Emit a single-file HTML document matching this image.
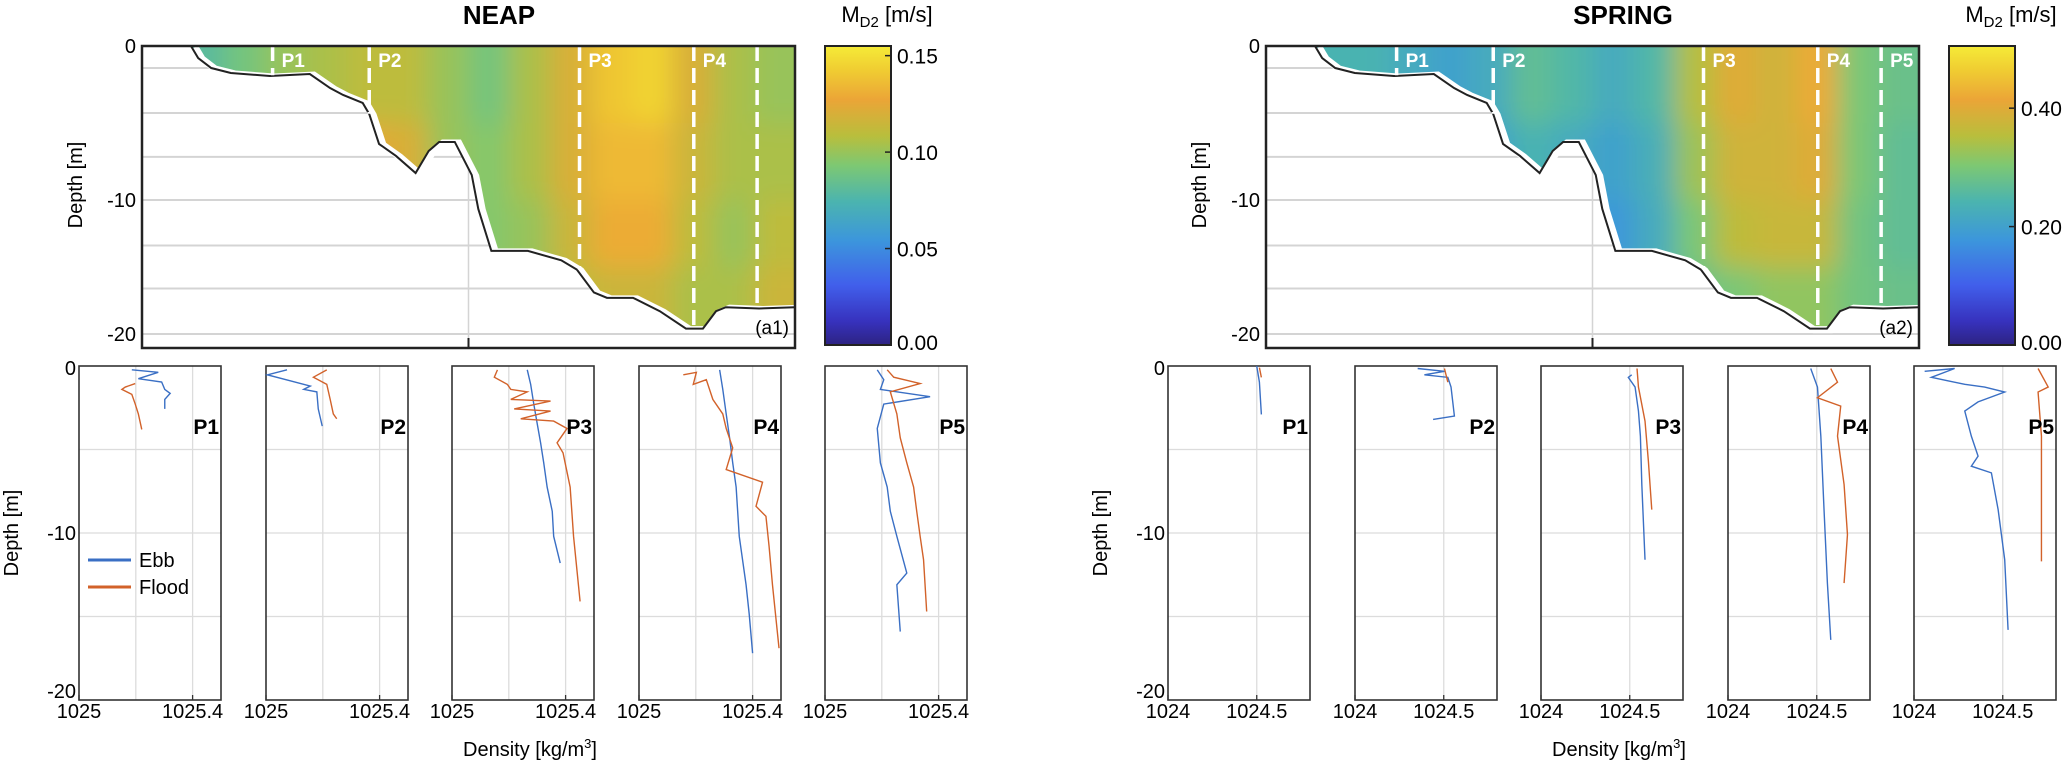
<!DOCTYPE html>
<html><head><meta charset="utf-8">
<style>
html,body{margin:0;padding:0;background:#fff;}
svg{display:block;font-family:"Liberation Sans",Arial,sans-serif;}
</style></head>
<body>
<svg id="fig" width="2067" height="763" viewBox="0 0 2067 763" xmlns="http://www.w3.org/2000/svg">
<defs>
<linearGradient id="parula" x1="0" y1="1" x2="0" y2="0">
<stop offset="0" stop-color="rgb(45,35,130)"/><stop offset="0.08" stop-color="rgb(55,50,190)"/>
<stop offset="0.2" stop-color="rgb(65,95,235)"/><stop offset="0.35" stop-color="rgb(60,150,220)"/>
<stop offset="0.48" stop-color="rgb(75,180,175)"/><stop offset="0.6" stop-color="rgb(125,200,115)"/>
<stop offset="0.7" stop-color="rgb(185,190,60)"/><stop offset="0.82" stop-color="rgb(235,165,55)"/>
<stop offset="0.92" stop-color="rgb(240,205,50)"/><stop offset="1" stop-color="rgb(245,235,55)"/>
</linearGradient>
<filter id="blur" x="-10%" y="-10%" width="120%" height="120%"><feGaussianBlur stdDeviation="13"/></filter>
</defs>
</svg>
<script>
// ---------- DATA ----------
// bathymetry: distance (0-100 across section) and depth (m)
const bathyDist = [7.5,8.6,10.6,13.6,19.6,25.7,28.8,30.8,33.8,34.8,36.3,38.9,41.9,43.9,45.5,47.9,49.0,50.5,51.5,53.5,59.1,64.2,66.6,69.2,71.2,75.2,79.3,83.3,85.9,87.9,89.4,94.5,100];
const bathyDepth = [0,0.78,1.43,1.75,1.95,1.82,2.73,3.18,3.7,4.42,6.36,7.14,8.25,6.82,6.23,6.23,7.14,8.38,10.67,13.8,13.8,14.5,15.2,16.9,17.3,17.3,18.3,19.6,19.6,18.3,18.0,18.1,18.0];
const profileDist = [20, 34.8, 67.0, 84.5, 94.2];
const profileNames = ["P1","P2","P3","P4","P5"];
// heatmap: 16 columns x 4 depth rows (0-5,5-10,10-15,15-20 m)
const neapGrid = [
 [.08,.08,.08,.08],[.08,.085,.085,.085],[.09,.1,.1,.1],[.1,.11,.11,.11],
 [.105,.12,.12,.12],[.11,.125,.125,.12],[.11,.12,.115,.11],[.1,.1,.1,.1],
 [.09,.095,.095,.1],[.105,.105,.1,.1],[.12,.12,.115,.11],[.14,.135,.13,.115],
 [.145,.135,.13,.115],[.12,.115,.11,.105],[.105,.105,.1,.105],[.1,.105,.11,.115]];
const springGrid = [
 [.25,.25,.25,.25],[.24,.24,.24,.24],[.24,.24,.24,.24],[.22,.22,.22,.22],
 [.2,.2,.2,.2],[.22,.2,.2,.2],[.27,.24,.22,.22],[.25,.22,.2,.2],
 [.22,.2,.18,.2],[.25,.23,.22,.25],[.35,.33,.3,.28],[.4,.38,.36,.3],
 [.38,.38,.37,.32],[.42,.4,.37,.32],[.3,.3,.29,.29],[.28,.27,.27,.28]];
const neapCbTicks = [0,0.05,0.10,0.15];
const neapCbLabels = ["0.00","0.05","0.10","0.15"];
const springCbTicks = [0,0.20,0.40];
const springCbLabels = ["0.00","0.20","0.40"];
const neapXTicks = [1025,1025.4];
const neapXLabels = ["1025","1025.4"];
const springXTicks = [1024,1024.5];
const springXLabels = ["1024","1024.5"];
// density profiles [density, depth]
const neapEbb = [
 [[1025.186,0.23],[1025.279,0.38],[1025.209,0.76],[1025.291,0.96],[1025.302,1.4],[1025.321,1.64],[1025.302,2.0],[1025.302,2.57]],
 [[1025.074,0.23],[1025.005,0.53],[1025.156,1.2],[1025.133,1.4],[1025.179,1.55],[1025.184,2.57],[1025.198,3.6]],
 [[1025.265,0.23],[1025.277,1.1],[1025.288,2.28],[1025.3,3.45],[1025.312,4.6],[1025.323,5.8],[1025.335,7.25],[1025.353,8.7],[1025.358,10.2],[1025.381,11.8]],
 [[1025.284,0.23],[1025.295,1.4],[1025.307,2.87],[1025.319,4.3],[1025.33,5.8],[1025.342,7.25],[1025.353,10.2],[1025.377,13.1],[1025.388,14.85],[1025.4,17.2]],
 [[1025.184,0.23],[1025.207,0.82],[1025.195,1.4],[1025.37,1.84],[1025.207,2.28],[1025.184,3.74],[1025.195,5.8],[1025.219,7.25],[1025.23,8.7],[1025.253,10.2],[1025.288,12.4],[1025.253,13.1],[1025.265,15.9]]];
const neapFlood = [
 [[1025.198,1.05],[1025.163,1.26],[1025.151,1.4],[1025.186,1.7],[1025.198,2.28],[1025.209,2.87],[1025.221,3.8]],
 [[1025.214,0.23],[1025.167,0.67],[1025.214,1.1],[1025.226,2.0],[1025.237,2.87],[1025.249,3.16]],
 [[1025.16,0.23],[1025.149,0.67],[1025.195,1.1],[1025.207,1.4],[1025.265,1.55],[1025.207,2.0],[1025.347,2.1],[1025.219,2.57],[1025.347,2.7],[1025.242,3.16],[1025.358,3.3],[1025.405,3.74],[1025.37,4.6],[1025.391,5.2],[1025.416,7.25],[1025.428,10.2],[1025.451,14.1]],
 [[1025.156,0.53],[1025.202,0.38],[1025.191,1.1],[1025.237,0.82],[1025.26,2.0],[1025.295,2.87],[1025.307,3.74],[1025.33,4.9],[1025.307,6.2],[1025.435,6.96],[1025.412,8.4],[1025.447,9.0],[1025.458,10.8],[1025.47,13.1],[1025.493,16.9]],
 [[1025.219,0.23],[1025.242,0.67],[1025.335,1.05],[1025.23,1.55],[1025.253,2.87],[1025.265,4.3],[1025.288,5.8],[1025.312,7.25],[1025.323,8.7],[1025.335,10.2],[1025.347,11.6],[1025.358,14.7]]];
const springEbb = [
 [[1024.5,0],[1024.515,0.97],[1024.526,2.9]],
 [[1024.353,0.15],[1024.504,0.32],[1024.391,0.53],[1024.523,0.68],[1024.541,1.26],[1024.56,3.0],[1024.44,3.2]],
 [[1024.511,0.53],[1024.492,0.68],[1024.53,1.26],[1024.549,2.7],[1024.56,4.2],[1024.568,7.1],[1024.586,11.6]],
 [[1024.466,0.15],[1024.504,1.26],[1024.523,4.2],[1024.541,8.6],[1024.56,13],[1024.579,16.4]],
 [[1024.06,0.32],[1024.229,0.15],[1024.098,0.68],[1024.286,1.1],[1024.398,1.26],[1024.511,1.56],[1024.361,2.15],[1024.286,2.7],[1024.323,4.2],[1024.361,5.4],[1024.323,6.0],[1024.436,6.4],[1024.474,8.6],[1024.511,11.6],[1024.53,15.8]]];
const springFlood = [
 [[1024.515,0.1],[1024.526,0.68]],
 [[1024.504,0.15],[1024.523,0.97]],
 [[1024.541,0.15],[1024.549,1.26],[1024.586,3.3],[1024.605,5.7],[1024.624,8.6]],
 [[1024.579,0.15],[1024.617,0.97],[1024.504,1.9],[1024.635,2.4],[1024.617,4.2],[1024.654,7.1],[1024.673,10.1],[1024.654,13]],
 [[1024.699,0.15],[1024.756,1.26],[1024.699,1.56],[1024.718,4.2],[1024.718,8.6],[1024.718,11.7]]];

// ---------- DRAWING ----------
const svg = document.getElementById('fig');
const NS = 'http://www.w3.org/2000/svg';
function mk(tag, attrs, parent){const e=document.createElementNS(NS,tag);for(const k in attrs)e.setAttribute(k,attrs[k]);(parent||svg).appendChild(e);return e;}
function txt(s, attrs, parent){const e=mk('text',attrs,parent);e.textContent=s;return e;}
const PAR=[[0,[45,35,130]],[0.08,[55,50,190]],[0.2,[65,95,235]],[0.35,[60,150,220]],[0.48,[75,180,175]],[0.6,[125,200,115]],[0.7,[185,190,60]],[0.82,[235,165,55]],[0.92,[240,205,50]],[1,[245,235,55]]];
function cmap(t){t=Math.max(0,Math.min(1,t));for(let i=1;i<PAR.length;i++){if(t<=PAR[i][0]){const a=PAR[i-1],b=PAR[i],f=(t-a[0])/(b[0]-a[0]);return 'rgb('+a[1].map((v,j)=>Math.round(v+(b[1][j]-v)*f)).join(',')+')';}}return 'rgb(245,235,55)';}

const TOP=46, BOT=348;
function topY(d){return d<=10 ? 46+d*15.4 : 200+(d-10)*13.4;}

function drawHalf(dx, title, tag, grid, cmax, cbTicks, cbLabels, ebb, flood, xTicks, xLabels, xmin, xmax, showP5Label, showLegend){
  const L=142+dx, R=795+dx, W=R-L;
  const X = d => L + d/100*W;
  const g = mk('g',{});
  
  
  const t = txt(title,{x:499+dx,y:24,'text-anchor':'middle','font-size':26,'font-weight':'bold'},g);
  
  
  [1.43,4.35,7.2,10,13.4,16.6,20].forEach(d=>{
    const gl=mk('line',{x1:L,x2:R,y1:topY(d),y2:topY(d),stroke:'#d4d4d4','stroke-width':2},g);
    
    
  });
  mk('line',{x1:L+W*0.5,x2:L+W*0.5,y1:TOP,y2:BOT,stroke:'#d4d4d4','stroke-width':1.5},g);
  const clipId='clip'+tag;
  const cp=mk('clipPath',{id:clipId},g);
  let pts=bathyDist.map((d,i)=>X(d)+','+topY(bathyDepth[i]));
  pts.push(R+','+TOP); pts.push(X(bathyDist[0])+','+TOP);
  mk('polygon',{points:pts.join(' ')},cp);
  const hc=mk('g',{'clip-path':'url(#'+clipId+')'},g);
  const hb=mk('g',{filter:'url(#blur)'},hc);
  const cw=W/grid.length;
  grid.forEach((col,i)=>col.forEach((v,j)=>{
    const y0 = j===0? TOP-30 : topY(j*5), y1 = j===3? BOT+30 : topY((j+1)*5);
    const x0 = i===0? L-30 : L+i*cw, x1 = i===grid.length-1? R+30 : L+(i+1)*cw;
    const c=mk('rect',{x:x0,y:y0,width:x1-x0+1,height:y1-y0+1,fill:cmap(v/cmax)},hb);
    
    
  }));
  const bp=bathyDist.map((d,i)=>X(d)+','+topY(bathyDepth[i])).join(' ');
  mk('polyline',{points:bp,fill:'none',stroke:'#fff','stroke-width':7,transform:'translate(4,1)'},g);
  const bl=mk('polyline',{points:bp,fill:'none',stroke:'#222','stroke-width':2},g);
  
  
  profileDist.forEach((d,i)=>{
    const x=X(d);
    const dl=mk('line',{x1:x,x2:x,y1:TOP,y2:topY(i<2?[1.9,4.4][i]:bathyDepth[0]+[15.2,19.4,18.0][i-2]),stroke:'#fff','stroke-width':3.5,'stroke-dasharray':'15 7'},g);
    
    
    if(i<4||showP5Label){
      const pl=txt(profileNames[i],{x:x+9,y:67,'font-size':19,'font-weight':'bold',fill:'#fff'},g);
      
      
    }
  });
  mk('rect',{x:L,y:TOP,width:W,height:BOT-TOP,fill:'none',stroke:'#222','stroke-width':2.5},g);
  mk('line',{x1:L+W*0.5,x2:L+W*0.5,y1:BOT,y2:BOT-10,stroke:'#222','stroke-width':2},g);
  [[0,'0'],[10,'-10'],[20,'-20']].forEach(([d,s])=>{
    const tl=txt(s,{x:L-6,y:topY(d)+7,'text-anchor':'end','font-size':20},g);
    
    
  });
  const yt=txt('Depth [m]',{x:0,y:0,'text-anchor':'middle','font-size':20,transform:'translate('+(82+dx)+',185) rotate(-90)'},g);
  
  
  const pt=txt('('+(tag==='neap'?'a1':'a2')+')',{x:R-6,y:334,'text-anchor':'end','font-size':19},g);
  
  
  const cbL=825+dx, cbW=66, cbT=46, cbB=345;
  const cb=mk('rect',{x:cbL,y:cbT,width:cbW,height:cbB-cbT,fill:'url(#parula)',stroke:'#222','stroke-width':2},g);
  
  
  cbTicks.forEach((v,i)=>{
    const y=cbB-(v/cmax)*(cbB-cbT);
    mk('line',{x1:cbL+cbW-6,x2:cbL+cbW,y1:y,y2:y,stroke:'#222','stroke-width':1.5},g);
    const cl=txt(cbLabels[i],{x:cbL+cbW+6,y:Math.min(y+8,cbB+5),'font-size':21},g);
    
    
  });
  const ct=mk('text',{x:cbL+62,y:22,'text-anchor':'middle','font-size':22},g);
  
  
  ct.innerHTML='M<tspan font-size="15" dy="5">D2</tspan><tspan dy="-5"> [m/s]</tspan>';

  const pT=366, pB=700, pW=142;
  const lefts=[79,266,452,639,825].map(v=>v+(tag==='neap'?0:1089));
  const PY=d=>pT+d*(pB-pT)/20;
  lefts.forEach((pl,i)=>{
    const PX=v=>pl+(v-xmin)/(xmax-xmin)*pW;
    const pg=mk('g',{},g);
    
    
    [5,10,15].forEach(d=>mk('line',{x1:pl,x2:pl+pW,y1:PY(d),y2:PY(d),stroke:'#dcdcdc','stroke-width':1.3},pg));
    const gx = tag==='neap'?[1025.2,1025.4]:[1024.5];
    gx.forEach(v=>mk('line',{x1:PX(v),x2:PX(v),y1:pT,y2:pB,stroke:'#dcdcdc','stroke-width':1.3},pg));
    mk('rect',{x:pl,y:pT,width:pW,height:pB-pT,fill:'none',stroke:'#333','stroke-width':1.6},pg);
    const e=mk('polyline',{points:ebb[i].map(p=>PX(p[0])+','+PY(p[1])).join(' '),fill:'none',stroke:'#3a6fc4','stroke-width':1.4},pg);
    
    
    const f=mk('polyline',{points:flood[i].map(p=>PX(p[0])+','+PY(p[1])).join(' '),fill:'none',stroke:'#d2622a','stroke-width':1.4},pg);
    
    
    const lb=txt(profileNames[i],{x:pl+pW-2,y:434,'text-anchor':'end','font-size':21,'font-weight':'bold'},pg);
    
    
    xTicks.forEach((v,k)=>{
      mk('line',{x1:PX(v),x2:PX(v),y1:pB,y2:pB-5,stroke:'#333','stroke-width':1.3},pg);
      const xl=txt(xLabels[k],{x:PX(v),y:718,'text-anchor':'middle','font-size':20},pg);
      
      
    });
    if(i===0){
      [[0,'0'],[10,'-10'],[20,'-20']].forEach(([d,s])=>{
        const yl=txt(s,{x:pl-3,y:PY(d)+(d===0?9:d===20?-2:7),'text-anchor':'end','font-size':20},pg);
        
        
      });
    }
  });
  const by=txt('Depth [m]',{x:0,y:0,'text-anchor':'middle','font-size':20,transform:'translate('+(lefts[0]-61)+',533) rotate(-90)'},g);
  
  
  const xt=mk('text',{x:lefts[2]+78,y:756,'text-anchor':'middle','font-size':20},g);
  
  
  xt.innerHTML='Density [kg/m<tspan font-size="13" dy="-8">3</tspan><tspan dy="8">]</tspan>';
  if(showLegend){
    const lg=mk('g',{},g);
    
    
    mk('line',{x1:88,x2:131,y1:560,y2:560,stroke:'#3a6fc4','stroke-width':3},lg);
    const le=txt('Ebb',{x:139,y:567,'font-size':20},lg);
    
    
    mk('line',{x1:88,x2:131,y1:587,y2:587,stroke:'#d2622a','stroke-width':3},lg);
    const lf=txt('Flood',{x:139,y:594,'font-size':20},lg);
    
    
  }
}
drawHalf(0,'NEAP','neap',neapGrid,0.155,neapCbTicks,neapCbLabels,neapEbb,neapFlood,neapXTicks,neapXLabels,1025,1025.5,false,true);
drawHalf(1124,'SPRING','spring',springGrid,0.505,springCbTicks,springCbLabels,springEbb,springFlood,springXTicks,springXLabels,1024,1024.8,true,false);
</script>
</body></html>
